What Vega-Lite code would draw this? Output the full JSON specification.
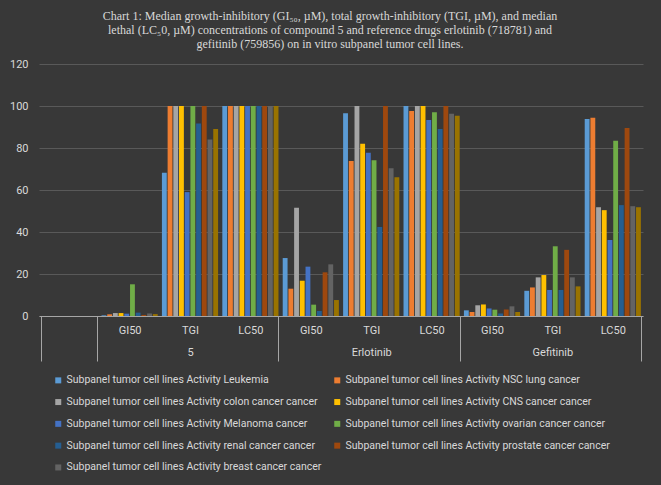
{
  "$schema": "https://vega.github.io/schema/vega-lite/v6.json",
  "width": 604,
  "height": 252,
  "autosize": {"type": "none"},
  "padding": {"left": 39, "top": 64, "right": 18, "bottom": 169},
  "background": "#383838",
  "title": {
    "text": [
      "Chart 1: Median growth-inhibitory (GI₅₀, µM), total growth-inhibitory (TGI, µM), and median",
      "lethal (LC₅0, µM) concentrations of compound 5 and reference drugs erlotinib (718781) and",
      "gefitinib (759856) on in vitro subpanel tumor cell lines."
    ],
    "font": "Liberation Serif",
    "fontSize": 12,
    "fontWeight": "normal",
    "color": "#d9d9d9",
    "lineHeight": 14,
    "anchor": "middle",
    "dx": -11,
    "offset": 7
  },
  "config": {
    "view": {"stroke": null},
    "axis": {"labelFont": "Roboto", "labelColor": "#d9d9d9", "labelFontSize": 11}
  },
  "data": {
    "values": [
      {"cat": "5|GI50", "series": "Leukemia", "value": 0.3},
      {"cat": "5|GI50", "series": "NSC lung cancer", "value": 0.8},
      {"cat": "5|GI50", "series": "colon cancer cancer", "value": 1.4},
      {"cat": "5|GI50", "series": "CNS cancer cancer", "value": 1.4},
      {"cat": "5|GI50", "series": "Melanoma cancer", "value": 1.1},
      {"cat": "5|GI50", "series": "ovarian cancer cancer", "value": 15.1},
      {"cat": "5|GI50", "series": "renal cancer cancer", "value": 1.6},
      {"cat": "5|GI50", "series": "prostate cancer cancer", "value": 0.5},
      {"cat": "5|GI50", "series": "breast cancer cancer", "value": 1.2},
      {"cat": "5|GI50", "series": "other", "value": 0.9},
      {"cat": "5|TGI", "series": "Leukemia", "value": 68.2},
      {"cat": "5|TGI", "series": "NSC lung cancer", "value": 100},
      {"cat": "5|TGI", "series": "colon cancer cancer", "value": 100},
      {"cat": "5|TGI", "series": "CNS cancer cancer", "value": 100},
      {"cat": "5|TGI", "series": "Melanoma cancer", "value": 59},
      {"cat": "5|TGI", "series": "ovarian cancer cancer", "value": 100},
      {"cat": "5|TGI", "series": "renal cancer cancer", "value": 91.7},
      {"cat": "5|TGI", "series": "prostate cancer cancer", "value": 100},
      {"cat": "5|TGI", "series": "breast cancer cancer", "value": 84.1},
      {"cat": "5|TGI", "series": "other", "value": 89},
      {"cat": "5|LC50", "series": "Leukemia", "value": 100},
      {"cat": "5|LC50", "series": "NSC lung cancer", "value": 100},
      {"cat": "5|LC50", "series": "colon cancer cancer", "value": 100},
      {"cat": "5|LC50", "series": "CNS cancer cancer", "value": 100},
      {"cat": "5|LC50", "series": "Melanoma cancer", "value": 100},
      {"cat": "5|LC50", "series": "ovarian cancer cancer", "value": 100},
      {"cat": "5|LC50", "series": "renal cancer cancer", "value": 100},
      {"cat": "5|LC50", "series": "prostate cancer cancer", "value": 100},
      {"cat": "5|LC50", "series": "breast cancer cancer", "value": 100},
      {"cat": "5|LC50", "series": "other", "value": 100},
      {"cat": "Erlotinib|GI50", "series": "Leukemia", "value": 27.6},
      {"cat": "Erlotinib|GI50", "series": "NSC lung cancer", "value": 13},
      {"cat": "Erlotinib|GI50", "series": "colon cancer cancer", "value": 51.5},
      {"cat": "Erlotinib|GI50", "series": "CNS cancer cancer", "value": 16.8},
      {"cat": "Erlotinib|GI50", "series": "Melanoma cancer", "value": 23.5},
      {"cat": "Erlotinib|GI50", "series": "ovarian cancer cancer", "value": 5.4},
      {"cat": "Erlotinib|GI50", "series": "renal cancer cancer", "value": 2.4},
      {"cat": "Erlotinib|GI50", "series": "prostate cancer cancer", "value": 20.8},
      {"cat": "Erlotinib|GI50", "series": "breast cancer cancer", "value": 24.6},
      {"cat": "Erlotinib|GI50", "series": "other", "value": 7.6},
      {"cat": "Erlotinib|TGI", "series": "Leukemia", "value": 96.5},
      {"cat": "Erlotinib|TGI", "series": "NSC lung cancer", "value": 73.8},
      {"cat": "Erlotinib|TGI", "series": "colon cancer cancer", "value": 100},
      {"cat": "Erlotinib|TGI", "series": "CNS cancer cancer", "value": 82},
      {"cat": "Erlotinib|TGI", "series": "Melanoma cancer", "value": 77.7},
      {"cat": "Erlotinib|TGI", "series": "ovarian cancer cancer", "value": 74.2},
      {"cat": "Erlotinib|TGI", "series": "renal cancer cancer", "value": 42.4},
      {"cat": "Erlotinib|TGI", "series": "prostate cancer cancer", "value": 100},
      {"cat": "Erlotinib|TGI", "series": "breast cancer cancer", "value": 70.3},
      {"cat": "Erlotinib|TGI", "series": "other", "value": 66.1},
      {"cat": "Erlotinib|LC50", "series": "Leukemia", "value": 100},
      {"cat": "Erlotinib|LC50", "series": "NSC lung cancer", "value": 97.6},
      {"cat": "Erlotinib|LC50", "series": "colon cancer cancer", "value": 100},
      {"cat": "Erlotinib|LC50", "series": "CNS cancer cancer", "value": 100},
      {"cat": "Erlotinib|LC50", "series": "Melanoma cancer", "value": 93.3},
      {"cat": "Erlotinib|LC50", "series": "ovarian cancer cancer", "value": 97},
      {"cat": "Erlotinib|LC50", "series": "renal cancer cancer", "value": 89},
      {"cat": "Erlotinib|LC50", "series": "prostate cancer cancer", "value": 100},
      {"cat": "Erlotinib|LC50", "series": "breast cancer cancer", "value": 96.3},
      {"cat": "Erlotinib|LC50", "series": "other", "value": 95.4},
      {"cat": "Gefitinib|GI50", "series": "Leukemia", "value": 2.7},
      {"cat": "Gefitinib|GI50", "series": "NSC lung cancer", "value": 1.9},
      {"cat": "Gefitinib|GI50", "series": "colon cancer cancer", "value": 5.1},
      {"cat": "Gefitinib|GI50", "series": "CNS cancer cancer", "value": 5.5},
      {"cat": "Gefitinib|GI50", "series": "Melanoma cancer", "value": 3.6},
      {"cat": "Gefitinib|GI50", "series": "ovarian cancer cancer", "value": 3},
      {"cat": "Gefitinib|GI50", "series": "renal cancer cancer", "value": 1.2},
      {"cat": "Gefitinib|GI50", "series": "prostate cancer cancer", "value": 3.1},
      {"cat": "Gefitinib|GI50", "series": "breast cancer cancer", "value": 4.6},
      {"cat": "Gefitinib|GI50", "series": "other", "value": 1.9},
      {"cat": "Gefitinib|TGI", "series": "Leukemia", "value": 12},
      {"cat": "Gefitinib|TGI", "series": "NSC lung cancer", "value": 13.6},
      {"cat": "Gefitinib|TGI", "series": "colon cancer cancer", "value": 18.4},
      {"cat": "Gefitinib|TGI", "series": "CNS cancer cancer", "value": 19.5},
      {"cat": "Gefitinib|TGI", "series": "Melanoma cancer", "value": 12.4},
      {"cat": "Gefitinib|TGI", "series": "ovarian cancer cancer", "value": 33.2},
      {"cat": "Gefitinib|TGI", "series": "renal cancer cancer", "value": 12.4},
      {"cat": "Gefitinib|TGI", "series": "prostate cancer cancer", "value": 31.5},
      {"cat": "Gefitinib|TGI", "series": "breast cancer cancer", "value": 18.4},
      {"cat": "Gefitinib|TGI", "series": "other", "value": 14.1},
      {"cat": "Gefitinib|LC50", "series": "Leukemia", "value": 93.8},
      {"cat": "Gefitinib|LC50", "series": "NSC lung cancer", "value": 94.4},
      {"cat": "Gefitinib|LC50", "series": "colon cancer cancer", "value": 51.8},
      {"cat": "Gefitinib|LC50", "series": "CNS cancer cancer", "value": 50.4},
      {"cat": "Gefitinib|LC50", "series": "Melanoma cancer", "value": 36.2},
      {"cat": "Gefitinib|LC50", "series": "ovarian cancer cancer", "value": 83.5},
      {"cat": "Gefitinib|LC50", "series": "renal cancer cancer", "value": 52.8},
      {"cat": "Gefitinib|LC50", "series": "prostate cancer cancer", "value": 89.5},
      {"cat": "Gefitinib|LC50", "series": "breast cancer cancer", "value": 52.3},
      {"cat": "Gefitinib|LC50", "series": "other", "value": 51.8}
    ]
  },
  "mark": {"type": "bar"},
  "encoding": {
    "x": {
      "field": "cat",
      "type": "nominal",
      "sort": null,
      "scale": {
        "domain": ["", "5|GI50", "5|TGI", "5|LC50", "Erlotinib|GI50", "Erlotinib|TGI", "Erlotinib|LC50", "Gefitinib|GI50", "Gefitinib|TGI", "Gefitinib|LC50"],
        "paddingInner": 0.07,
        "paddingOuter": 0.035
      },
      "axis": {
        "title": null,
        "labelAngle": 0,
        "labelOverlap": false,
        "labelExpr": "datum.value == '' ? '' : (split(datum.value, '|')[1] == 'TGI' ? ['TGI', split(datum.value, '|')[0]] : split(datum.value, '|')[1])",
        "labelLineHeight": 22,
        "labelBaseline": "top",
        "labelPadding": -37,
        "tickBand": "extent",
        "tickSize": 45,
        "tickWidth": 1,
        "tickColor": {
          "condition": {
            "test": "!isValid(datum.value) || indexof(['', '5|LC50', 'Erlotinib|LC50', 'Gefitinib|LC50'], datum.value) >= 0",
            "value": "#a6a6a6"
          },
          "value": "transparent"
        },
        "domainColor": "#a6a6a6",
        "grid": false
      }
    },
    "xOffset": {
      "field": "series",
      "type": "nominal",
      "sort": null,
      "scale": {"paddingInner": 0.15, "paddingOuter": 0}
    },
    "y": {
      "field": "value",
      "type": "quantitative",
      "scale": {"domain": [0, 120], "nice": false},
      "axis": {
        "title": null,
        "values": [0, 20, 40, 60, 80, 100, 120],
        "domain": false,
        "ticks": false,
        "labelPadding": 11,
        "gridColor": "#595959",
        "gridWidth": 1
      }
    },
    "color": {
      "field": "series",
      "type": "nominal",
      "sort": null,
      "scale": {
        "domain": ["Leukemia", "NSC lung cancer", "colon cancer cancer", "CNS cancer cancer", "Melanoma cancer", "ovarian cancer cancer", "renal cancer cancer", "prostate cancer cancer", "breast cancer cancer", "other"],
        "range": ["#5B9BD5", "#ED7D31", "#A5A5A5", "#FFC000", "#4472C4", "#70AD47", "#255E91", "#9E480E", "#636363", "#997300"]
      },
      "legend": {
        "title": null,
        "orient": "none",
        "legendX": 14,
        "legendY": 311,
        "direction": "horizontal",
        "columns": 2,
        "values": ["Leukemia", "NSC lung cancer", "colon cancer cancer", "CNS cancer cancer", "Melanoma cancer", "ovarian cancer cancer", "renal cancer cancer", "prostate cancer cancer", "breast cancer cancer"],
        "labelExpr": "'Subpanel tumor cell lines Activity ' + datum.label",
        "labelFont": "Roboto",
        "labelFontSize": 10.5,
        "labelColor": "#d9d9d9",
        "labelLimit": 400,
        "labelOffset": 3,
        "symbolType": "square",
        "symbolSize": 36,
        "symbolStrokeWidth": 0,
        "rowPadding": 10.8,
        "columnPadding": 10
      }
    }
  }
}
